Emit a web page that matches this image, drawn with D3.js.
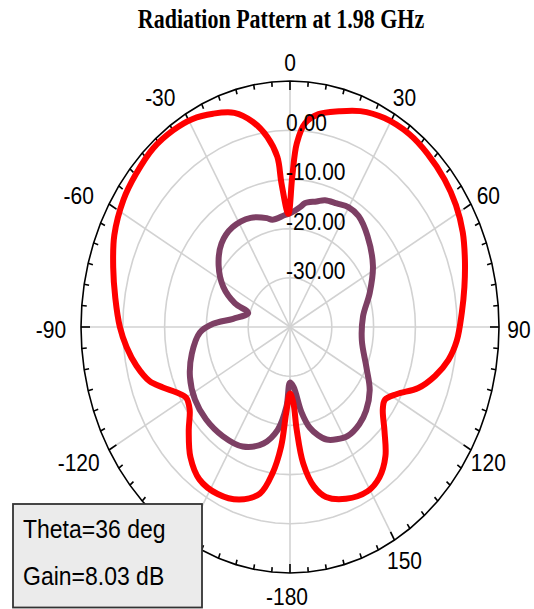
<!DOCTYPE html>
<html><head><meta charset="utf-8">
<script src="https://cdn.jsdelivr.net/npm/d3@7"></script>
<style>html,body{margin:0;padding:0;background:#fff;overflow:hidden}</style>
</head><body><svg id="chart" width="534" height="609"></svg>
<script>
// ---- data ----
const chartTitle = "Radiation Pattern at 1.98 GHz";
// the -150 label is hidden behind the marker box in the reference
const angleTicks = [0, 30, 60, 90, 120, 150, 180, -120, -90, -60, -30];
const angleTickLabels = ["0", "30", "60", "90", "120", "150", "-180", "-120", "-90", "-60", "-30"];
const dbLevels = [-30, -20, -10, 0];
const dbLabels = ["-30.00", "-20.00", "-10.00", "0.00"];
const dbMin = -40, dbMax = 10;

const redTheta = [-177,-175,-172,-168,-161,-153,-145,-138,-131,-125,-120,-116,-112,-108,-102,-96,-90,-82,-74,-66,-57,-50,-42,-35,-29,-23,-17,-12,-8,-5,-4,-1,1,2.5,5,9,15,21,28,36,43,51,58,65,72,79,86,94,100,106,112,118,123,127,133,139,145,151,159,166,170,173.5,175.6,177,180];
const redGain  = [-22.5,-15.6,-10.0,-5.4,-2.9,-1.9,-2.2,-4.4,-7.9,-10.7,-11.3,-9.7,-7.2,-4.6,-2.4,-0.7,0.7,2.2,4.0,6.0,7.5,8.2,8.9,8.8,8.3,7.1,5.5,2.6,-1.0,-5.3,-10.7,-17.0,-9.5,-2.6,1.6,3.8,5.4,7.0,8.1,8.5,8.2,7.6,6.8,5.6,4.0,2.5,1.2,0.0,-1.5,-3.9,-6.9,-11.0,-12.9,-12.2,-9.1,-5.2,-2.7,-1.8,-2.6,-4.4,-7.1,-12.1,-19.0,-24.5,-26.5];

const purpleTheta = [-177,-172,-165,-155,-144,-133,-123,-113,-103,-93,-88,-83,-74,-70,-63,-54,-44,-34,-23,-14,-11,-3,0,6,8,14,18,24,30,36,45,58,70,83,99,114,124,133,140,148,154,159,163,167,171,176,180];
const purpleGain  = [-23.8,-18.9,-15.5,-13.2,-12.6,-12.5,-12.9,-14.0,-15.9,-18.4,-21.6,-26.3,-29.6,-26.0,-22.1,-18.9,-16.4,-15.5,-15.9,-17.2,-17.8,-17.2,-16.9,-15.4,-14.6,-13.7,-12.9,-12.5,-11.9,-12.1,-13.8,-16.6,-19.7,-22.4,-22.6,-20.0,-17.0,-15.1,-14.2,-13.9,-14.6,-15.5,-17.0,-19.0,-22.5,-27.8,-28.7];

const markerLines = ["Theta=36 deg", "Gain=8.03 dB"];

// ---- layout ----
const cx = 290, cy = 327, RX = 209, RY = 246;
const svg = d3.select("#chart");
const rScale = d3.scaleLinear().domain([dbMin, dbMax]).range([0, 1]);
function pt(theta, db) {
  const f = rScale(db), a = theta * Math.PI / 180;
  return [cx + RX * f * Math.sin(a), cy - RY * f * Math.cos(a)];
}
const ring = db => d3.range(0, 360, 5).map(t => pt(t, db));
const closedLine = d3.line().curve(d3.curveLinearClosed);
const smoothLine = d3.line().curve(d3.curveCatmullRomClosed.alpha(0.5));
const SY = 1.12;
function stretchedText(g, x, y, txt, opts) {
  return g.append("text")
    .attr("transform", `translate(${x},${y}) scale(1,${opts.sy || SY})`)
    .attr("text-anchor", opts.anchor || "start")
    .attr("font-family", opts.family || "'Liberation Sans', Arial, sans-serif")
    .attr("font-size", opts.size || 21)
    .attr("font-weight", opts.weight || "normal")
    .attr("fill", "#000")
    .text(txt);
}

// grid circles
const grid = svg.append("g");
dbLevels.forEach(db => {
  grid.append("path").attr("d", closedLine(ring(db)))
    .attr("fill", "none").attr("stroke", "#d2d2d2").attr("stroke-width", 1.6);
});
// spokes
d3.range(0, 360, 30).forEach(t => {
  const p = pt(t, dbMax);
  grid.append("line").attr("x1", cx).attr("y1", cy).attr("x2", p[0]).attr("y2", p[1])
    .attr("stroke", "#d2d2d2").attr("stroke-width", 1.6);
});

// outer ring + ticks
const axis = svg.append("g");
axis.append("path").attr("d", closedLine(ring(dbMax)))
  .attr("fill", "none").attr("stroke", "#000").attr("stroke-width", 1.6);
d3.range(0, 360, 5).forEach(t => {
  const p = pt(t, dbMax);
  const dx = cx - p[0], dy = cy - p[1], L = Math.hypot(dx, dy);
  const len = (t % 30 === 0) ? 9 : 5;
  axis.append("line").attr("x1", p[0]).attr("y1", p[1])
    .attr("x2", p[0] + dx / L * len).attr("y2", p[1] + dy / L * len)
    .attr("stroke", "#000").attr("stroke-width", 1.6);
});

// curves
const curves = svg.append("g").attr("fill", "none").attr("stroke-linejoin", "round");
curves.append("path")
  .attr("d", smoothLine(purpleTheta.map((t, i) => pt(t, purpleGain[i]))))
  .attr("stroke", "#7d3f64").attr("stroke-width", 6);
curves.append("path")
  .attr("d", smoothLine(redTheta.map((t, i) => pt(t, redGain[i]))))
  .attr("stroke", "#ff0000").attr("stroke-width", 6);

// angle labels
const labels = svg.append("g");
angleTicks.forEach((t, i) => {
  const a = t * Math.PI / 180;
  const s = Math.sin(a);
  const x = cx + 229 * s + (s < -0.01 ? -10 - 6 * Math.abs(Math.cos(a)) : 0) + (t === 180 ? -3 : 0);
  const y = cy - 267 * Math.cos(a) + 2.5 + 8;
  stretchedText(labels, x, y, angleTickLabels[i], { anchor: "middle" });
});
// dB labels
dbLevels.forEach((db, i) => {
  const p = pt(0, db);
  stretchedText(labels, cx - 4, p[1] + 1, dbLabels[i], {});
});

// title
stretchedText(svg, 281, 28, chartTitle,
  { anchor: "middle", family: "'Liberation Serif', 'Times New Roman', serif", weight: "bold", size: 22, sy: 1.2 });

// marker box
const box = svg.append("g");
box.append("rect").attr("x", 13).attr("y", 504).attr("width", 189).attr("height", 103.5)
  .attr("fill", "#ebebeb").attr("stroke", "#333").attr("stroke-width", 1.8);
markerLines.forEach((s, i) => {
  stretchedText(box, 23, 538 + i * 47, s, { size: 23 });
});
</script></body></html>
